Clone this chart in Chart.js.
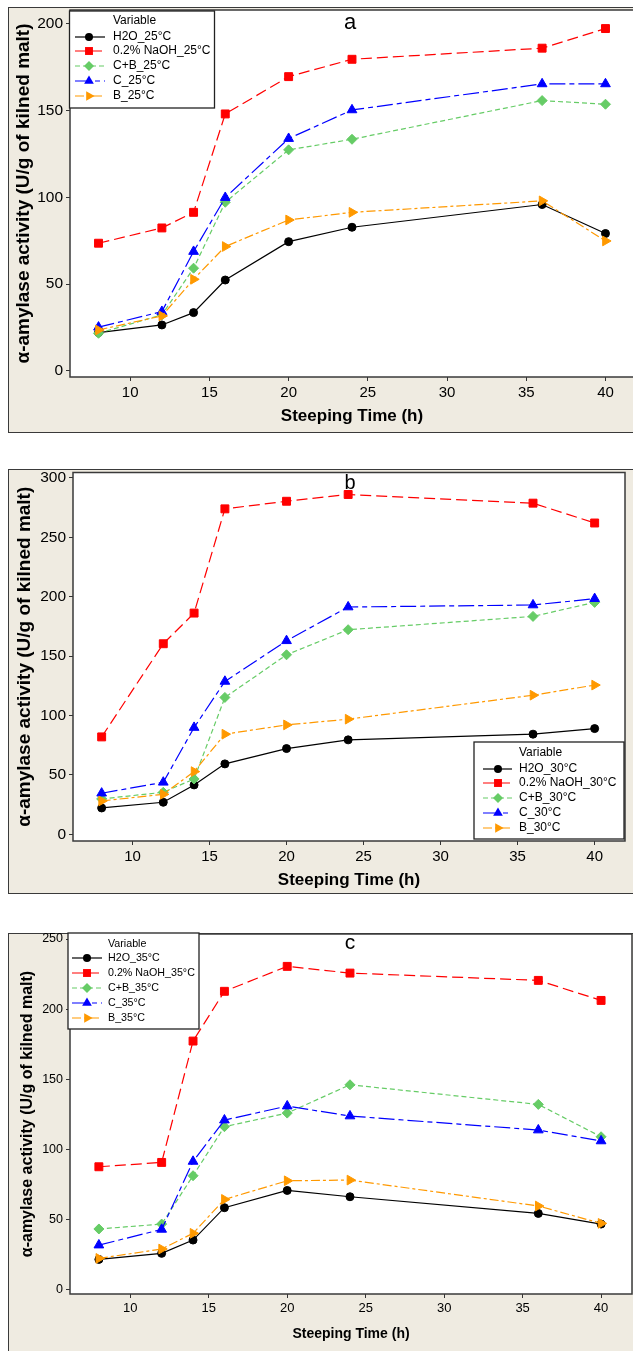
<!DOCTYPE html>
<html><head><meta charset="utf-8">
<script src="https://cdn.jsdelivr.net/npm/chart.js@4.4.1/dist/chart.umd.min.js"></script>
<style>
html,body{margin:0;padding:0;width:633px;height:1351px;overflow:hidden;background:#fff;}
.panel{position:absolute;left:8px;width:640px;background:#efebe1;border:1.5px solid #3a3a3a;box-sizing:border-box;}
canvas{position:absolute;left:0;}
</style></head><body>
<div class="panel" style="top:7px;height:426px"></div>
<div class="panel" style="top:469px;height:425px"></div>
<div class="panel" style="top:933px;height:430px"></div>
<canvas id="ca" width="640" height="426" style="top:7px"></canvas>
<canvas id="cb" width="640" height="425" style="top:469px"></canvas>
<canvas id="cc" width="640" height="438" style="top:923px"></canvas>
<script>
// ---- data ----
const hours = [8, 12, 14, 16, 20, 24, 36, 40];
const xTicks = [10, 15, 20, 25, 30, 35, 40];
const seriesNames = ['H2O', '0.2% NaOH', 'C+B', 'C', 'B'];
const xTitle = 'Steeping Time (h)';
const yTitle = 'α-amylase activity (U/g of kilned malt)';

// panel a – 25°C
const h2o_25  = [22.1, 26.5, 33.6, 52.4, 74.5, 82.8, 95.9, 79.2];
const naoh_25 = [73.6, 82.4, 91.4, 148.1, 169.6, 179.6, 186.0, 197.3];
const cb_25   = [21.7, 32.3, 59.2, 97.2, 127.4, 133.5, 155.8, 153.7];
const c_25    = [25.2, 34.2, 68.8, 99.9, 133.9, 150.4, 165.4, 165.4];
const b_25    = [23.6, 31.7, 52.8, 71.7, 87.0, 91.4, 98.0, 74.9];
const yTicks_a = [0, 50, 100, 150, 200];

// panel b – 30°C
const h2o_30  = [22.2, 27.0, 41.6, 59.3, 72.2, 79.5, 84.3, 89.0];
const naoh_30 = [82.0, 160.4, 186.2, 273.9, 280.3, 286.0, 278.7, 262.0];
const cb_30   = [29.8, 35.4, 46.6, 115.2, 151.1, 172.2, 183.4, 195.2];
const c_30    = [34.6, 43.8, 89.9, 128.7, 162.9, 191.3, 193.0, 198.3];
const b_30    = [28.1, 33.7, 52.8, 84.3, 92.1, 96.9, 117.1, 125.6];
const yTicks_b = [0, 50, 100, 150, 200, 250, 300];

// panel c – 35°C
const h2o_35  = [21.4, 25.7, 35.2, 58.3, 70.6, 66.1, 54.2, 46.6];
const naoh_35 = [87.5, 90.6, 177.2, 212.7, 230.5, 225.7, 220.5, 206.2];
const cb_35   = [43.1, 46.6, 81.1, 116.1, 125.8, 146.0, 132.0, 108.9];
const c_35    = [31.6, 42.8, 91.3, 120.8, 130.8, 123.7, 113.7, 105.9];
const b_35    = [22.1, 28.8, 40.0, 64.2, 77.5, 78.0, 59.5, 47.1];
const yTicks_c = [0, 50, 100, 150, 200, 250];

// ---- styles ----
const FONT = "'Liberation Sans', Arial, sans-serif";
Chart.defaults.font.family = FONT;
const styles = [
  {color:'#000000', dash:[],          point:'circle',   r:4,   rot:0},
  {color:'#ff0000', dash:[11,5],      point:'rect',     r:5.6, rot:0},
  {color:'#66cc66', dash:[5,3],       point:'rectRot',  r:5,   rot:0},
  {color:'#0000ff', dash:[16,4,5,4],  point:'triangle', r:5.6, rot:0},
  {color:'#ff9900', dash:[9,3,3,3],   point:'triangle', r:5.6, rot:90}
];

function drawMarker(ctx, st, x, y){
  ctx.save();
  ctx.fillStyle = st.color; ctx.strokeStyle = st.color; ctx.setLineDash([]);
  ctx.translate(x, y);
  const r = st.r, rad0 = st.rot * Math.PI / 180;
  ctx.beginPath();
  if (st.point === 'circle') ctx.arc(0, 0, r, 0, Math.PI*2);
  else if (st.point === 'rect') { const s = r*Math.SQRT1_2; ctx.rect(-s, -s, 2*s, 2*s); }
  else if (st.point === 'rectRot') { ctx.moveTo(0,-r); ctx.lineTo(r,0); ctx.lineTo(0,r); ctx.lineTo(-r,0); ctx.closePath(); }
  else if (st.point === 'triangle') {
    let a = rad0;
    ctx.moveTo(Math.sin(a)*r, -Math.cos(a)*r); a += 2*Math.PI/3;
    ctx.lineTo(Math.sin(a)*r, -Math.cos(a)*r); a += 2*Math.PI/3;
    ctx.lineTo(Math.sin(a)*r, -Math.cos(a)*r); ctx.closePath();
  }
  ctx.fill();
  ctx.restore();
}

function makeChart(id, cfg){
  const T = cfg.top;
  const decor = {
    id: 'decor' + id,
    beforeDraw(chart){
      const {ctx, chartArea:a} = chart;
      ctx.save(); ctx.fillStyle = '#ffffff';
      ctx.fillRect(a.left, a.top, a.right - a.left, a.bottom - a.top);
      ctx.restore();
    },
    afterDatasetsDraw(chart){
      const {ctx, chartArea:a} = chart;
      ctx.save();
      ctx.strokeStyle = '#3a3a3a'; ctx.lineWidth = 1.5; ctx.setLineDash([]);
      ctx.strokeRect(a.left, a.top, a.right - a.left, a.bottom - a.top);
      // panel letter
      ctx.fillStyle = '#000'; ctx.font = cfg.letterSize + 'px ' + FONT;
      ctx.textAlign = 'center'; ctx.textBaseline = 'middle';
      ctx.fillText(cfg.letter, cfg.letterX, cfg.letterY - T);
      // legend
      const L = cfg.legend;
      ctx.fillStyle = '#fff'; ctx.fillRect(L.x, L.y - T, L.w, L.h);
      ctx.strokeStyle = '#222'; ctx.lineWidth = 1.3;
      ctx.strokeRect(L.x, L.y - T, L.w, L.h);
      ctx.fillStyle = '#000'; ctx.font = L.font + 'px ' + FONT;
      ctx.textAlign = 'left'; ctx.textBaseline = 'middle';
      ctx.fillText('Variable', L.textX, L.varY - T);
      chart.data.datasets.forEach((ds, i) => {
        const st = styles[i], y = L.rows[i] - T;
        ctx.save();
        ctx.strokeStyle = st.color; ctx.lineWidth = 1.2; ctx.setLineDash(st.dash);
        ctx.beginPath(); ctx.moveTo(L.x1, y); ctx.lineTo(L.x2, y); ctx.stroke();
        ctx.restore();
        drawMarker(ctx, st, L.mx, y);
        ctx.fillStyle = '#000';
        ctx.fillText(ds.label, L.textX, y);
      });
      ctx.restore();
    }
  };
  return new Chart(document.getElementById(id), {
    type: 'line',
    data: {
      datasets: cfg.series.map((arr, i) => ({
        label: seriesNames[i] + '_' + cfg.temp + '°C',
        data: hours.map((h, j) => ({x: h, y: arr[j]})),
        borderColor: styles[i].color, backgroundColor: styles[i].color,
        borderWidth: 1.2, borderDash: styles[i].dash,
        pointStyle: styles[i].point, pointRadius: styles[i].r, pointRotation: styles[i].rot,
        pointBorderWidth: 1, pointBackgroundColor: styles[i].color, pointBorderColor: styles[i].color,
        tension: 0, order: 5 - i, clip: false
      }))
    },
    options: {
      responsive: false, animation: false, devicePixelRatio: 1,
      layout: {padding: cfg.pad, autoPadding: false},
      plugins: {legend: {display: false}, tooltip: {enabled: false}},
      scales: {
        x: {
          type: 'linear', min: cfg.xMin, max: cfg.xMax,
          afterBuildTicks: s => { s.ticks = xTicks.map(v => ({value: v})); },
          afterFit: s => { s.height = cfg.xH; s.paddingLeft = 0; s.paddingRight = 0; },
          grid: {display: true, drawOnChartArea: false, drawTicks: true, tickLength: 4, color: '#333'},
          border: {display: false},
          ticks: {color: '#000', font: {size: cfg.xTickSize}, padding: 3, maxRotation: 0, autoSkip: false},
          title: {display: true, text: xTitle, color: '#000', font: {size: cfg.xTitleSize, weight: 'bold'}, padding: {top: 0, bottom: cfg.xTitlePad}}
        },
        y: {
          type: 'linear', min: cfg.yMin, max: cfg.yMax,
          afterBuildTicks: s => { s.ticks = cfg.yTicks.map(v => ({value: v})); },
          afterFit: s => { s.width = cfg.yW; s.paddingTop = 0; s.paddingBottom = 0; },
          grid: {display: true, drawOnChartArea: false, drawTicks: true, tickLength: 4, color: '#333'},
          border: {display: false},
          ticks: {color: '#000', font: {size: cfg.yTickSize}, padding: 3, autoSkip: false},
          title: {display: true, text: yTitle, color: '#000', font: {size: cfg.yTitleSize, weight: 'bold'}, padding: {top: cfg.yTitlePad, bottom: 0}}
        }
      }
    },
    plugins: [decor]
  });
}

makeChart('ca', {
  top: 7, temp: 25, series: [h2o_25, naoh_25, cb_25, c_25, b_25], yTicks: yTicks_a,
  pad: {left: 8, top: 3, right: 6, bottom: 6}, yW: 62, xH: 50,
  xMin: 6.2, xMax: 41.8, yMin: -3.5, yMax: 208,
  xTickSize: 15, yTickSize: 15.5, xTitleSize: 17, yTitleSize: 19, xTitlePad: 0, yTitlePad: 4.5,
  letter: 'a', letterX: 350, letterY: 23, letterSize: 22,
  legend: {x: 69.5, y: 11, w: 145, h: 97, textX: 113, x1: 75, x2: 105, mx: 89, varY: 21, rows: [37, 51, 66, 81, 96], font: 12}
});
makeChart('cb', {
  top: 469, temp: 30, series: [h2o_30, naoh_30, cb_30, c_30, b_30], yTicks: yTicks_b,
  pad: {left: 11, top: 3.5, right: 15, bottom: 3}, yW: 62, xH: 50,
  xMin: 6.14, xMax: 41.97, yMin: -5.6, yMax: 304.5,
  xTickSize: 15, yTickSize: 15.5, xTitleSize: 17, yTitleSize: 19, xTitlePad: 0, yTitlePad: 2.5,
  letter: 'b', letterX: 350, letterY: 483, letterSize: 20,
  legend: {x: 474, y: 742, w: 150, h: 97, textX: 519, x1: 483, x2: 512, mx: 498, varY: 753, rows: [769, 783, 798, 813, 828], font: 12}
});
makeChart('cc', {
  top: 923, temp: 35, series: [h2o_35, naoh_35, cb_35, c_35, b_35], yTicks: yTicks_c,
  pad: {left: 14, top: 11, right: 8, bottom: 17}, yW: 56, xH: 50,
  xMin: 6.16, xMax: 41.97, yMin: -3.3, yMax: 253.6,
  xTickSize: 13, yTickSize: 12.5, xTitleSize: 14, yTitleSize: 16, xTitlePad: 1, yTitlePad: 4.4,
  letter: 'c', letterX: 350, letterY: 943, letterSize: 21,
  legend: {x: 68, y: 933, w: 131, h: 96, textX: 108, x1: 72, x2: 102, mx: 87, varY: 944, rows: [958, 973, 988, 1003, 1018], font: 10.7}
});
</script>
</body></html>
